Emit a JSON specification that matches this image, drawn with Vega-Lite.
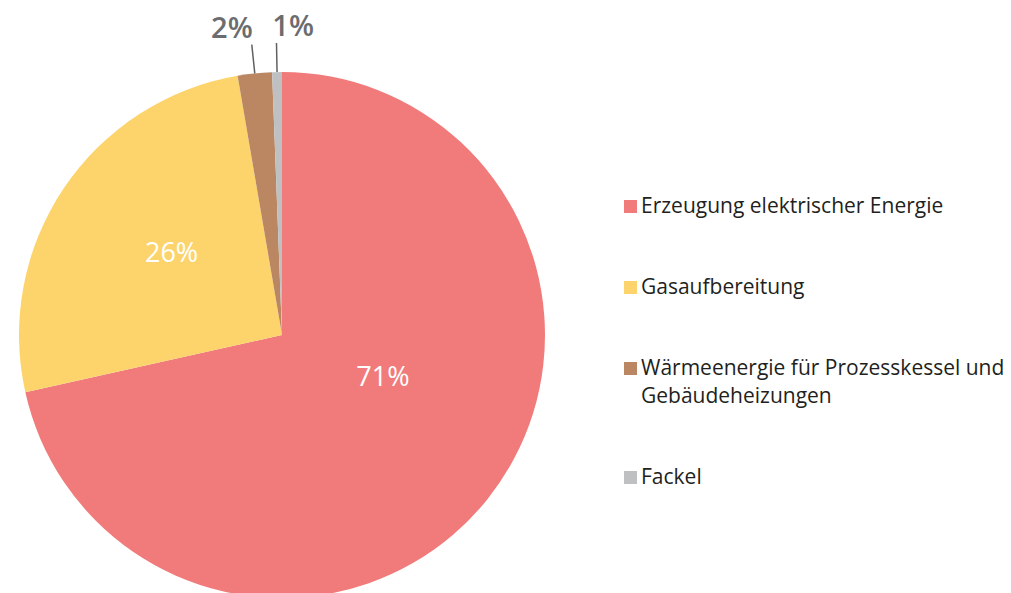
{
  "$schema": "https://vega.github.io/schema/vega-lite/v6.json",
  "width": 564,
  "height": 593,
  "autosize": {"type": "none"},
  "padding": {"left": 0, "top": 0, "right": 447, "bottom": 0},
  "background": "white",
  "config": {
    "view": {"stroke": null},
    "font": "Open Sans",
    "style": {"guide-label": {"lineHeight": 28}}
  },
  "data": {
    "values": [
      {"cat": "Erzeugung elektrischer Energie", "value": 71.5, "label": "71%", "ord": 1},
      {"cat": "Gasaufbereitung", "value": 25.8, "label": "26%", "ord": 2},
      {"cat": "Wärmeenergie für Prozesskessel und Gebäudeheizungen", "value": 2.1, "label": "2%", "ord": 3},
      {"cat": "Fackel", "value": 0.6, "label": "1%", "ord": 4}
    ]
  },
  "encoding": {
    "theta": {"field": "value", "type": "quantitative", "stack": true},
    "order": {"field": "ord", "type": "quantitative"}
  },
  "layer": [
    {
      "mark": {"type": "arc", "outerRadius": 263, "yOffset": 38.5},
      "encoding": {
        "color": {
          "field": "cat",
          "type": "nominal",
          "scale": {
            "domain": ["Erzeugung elektrischer Energie", "Gasaufbereitung", "Wärmeenergie für Prozesskessel und Gebäudeheizungen", "Fackel"],
            "range": ["#F17B7B", "#FCD46B", "#BB8762", "#BEC0C2"]
          },
          "legend": {
            "title": null,
            "orient": "none",
            "legendX": 620,
            "legendY": 196,
            "padding": 0,
            "symbolType": "square",
            "symbolSize": 169,
            "symbolStrokeWidth": 0,
            "labelFont": "Open Sans",
            "labelFontSize": 21,
            "labelColor": "#231f20",
            "labelOffset": 0,
            "labelLimit": 420,
            "rowPadding": 59,
            "labelExpr": "indexof(datum.label, 'Wärme') === 0 ? ['Wärmeenergie für Prozesskessel und', 'Gebäudeheizungen'] : datum.label"
          }
        }
      }
    },
    {
      "mark": {"type": "arc", "innerRadius": 263, "outerRadius": 292, "yOffset": 38.5, "padAngle": 0.3, "fillOpacity": 0, "stroke": "#5f6062", "strokeWidth": 1.5},
      "encoding": {
        "strokeOpacity": {"condition": {"test": "datum.ord >= 3", "value": 1}, "value": 0}
      }
    },
    {
      "mark": {"type": "text", "radius": 110, "yOffset": 38.5, "dx": 15, "dy": -26, "fontSize": 27, "fontWeight": 500, "color": "white", "align": "center", "baseline": "middle"},
      "encoding": {
        "text": {"condition": {"test": "datum.ord === 1", "field": "label"}, "value": ""}
      }
    },
    {
      "mark": {"type": "text", "radius": 139, "yOffset": 38.5, "dx": 5, "dy": -4, "fontSize": 27, "fontWeight": 500, "color": "white", "align": "center", "baseline": "middle"},
      "encoding": {
        "text": {"condition": {"test": "datum.ord === 2", "field": "label"}, "value": ""}
      }
    },
    {
      "mark": {"type": "text", "radius": 310, "yOffset": 38.5, "dx": -18, "dy": 2, "fontSize": 29, "fontWeight": 600, "color": "#6B6C6E", "align": "center", "baseline": "middle"},
      "encoding": {
        "text": {"condition": {"test": "datum.ord === 3", "field": "label"}, "value": ""}
      }
    },
    {
      "mark": {"type": "text", "radius": 310, "yOffset": 38.5, "dx": 17, "dy": 2, "fontSize": 29, "fontWeight": 600, "color": "#6B6C6E", "align": "center", "baseline": "middle"},
      "encoding": {
        "text": {"condition": {"test": "datum.ord === 4", "field": "label"}, "value": ""}
      }
    }
  ]
}
